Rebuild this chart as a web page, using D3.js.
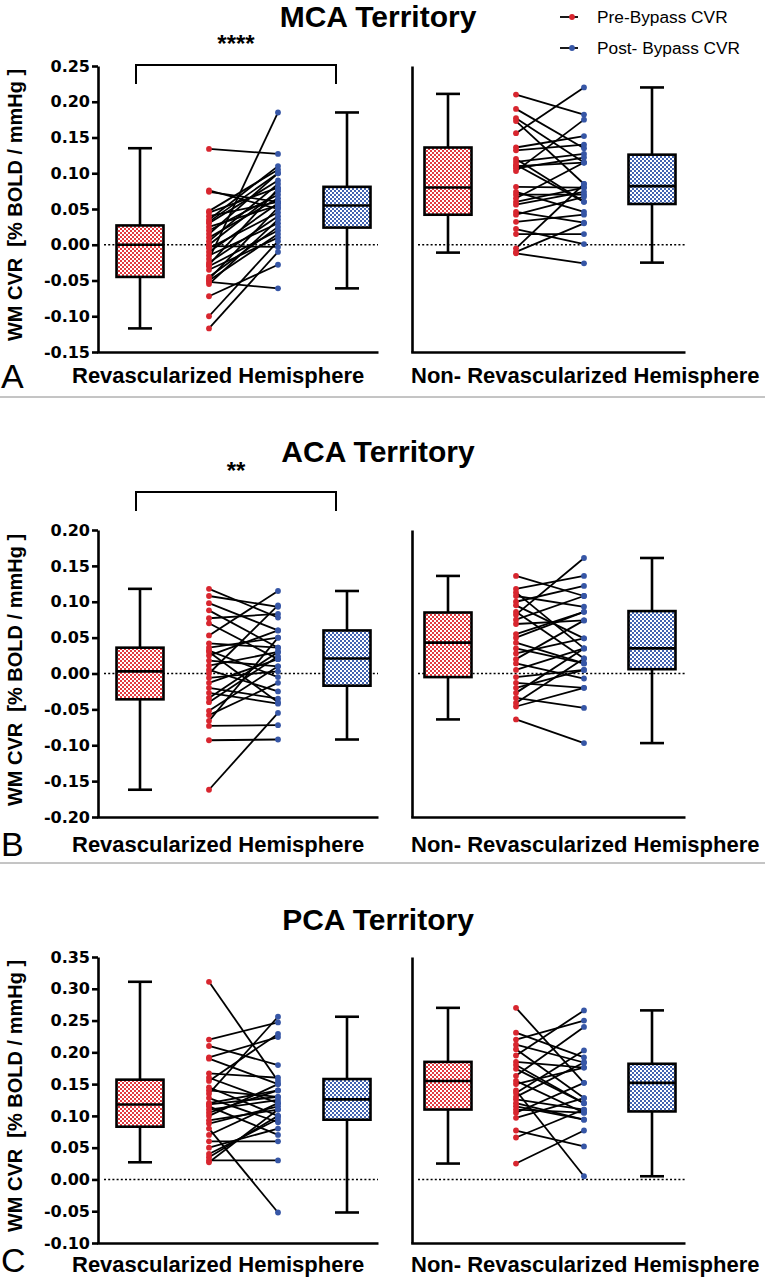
<!DOCTYPE html>
<html>
<head>
<meta charset="utf-8">
<script src="https://cdn.jsdelivr.net/npm/d3@7"></script>
<style>
  body { margin: 0; background: #fff; }
  text { font-family: "Liberation Sans", Arial, sans-serif; }
</style>
</head>
<body>
<svg id="chart" width="765" height="1280"></svg>
<script>
// --- data ---
var groups = ["Revascularized Hemisphere", "Non- Revascularized Hemisphere"];
var legendLabels = ["Pre-Bypass CVR", "Post- Bypass CVR"];

var mcaTicks = [0.25, 0.20, 0.15, 0.10, 0.05, 0.00, -0.05, -0.10, -0.15];
var acaTicks = [0.20, 0.15, 0.10, 0.05, 0.00, -0.05, -0.10, -0.15, -0.20];
var pcaTicks = [0.35, 0.30, 0.25, 0.20, 0.15, 0.10, 0.05, 0.00, -0.05, -0.10];

// box stats: [min, q1, median, q3, max]
var mcaRevPreBox  = [-0.117, -0.045, 0.000, 0.027, 0.135];
var mcaRevPostBox = [-0.061, 0.024, 0.055, 0.081, 0.185];
var mcaNonPreBox  = [-0.011, 0.042, 0.080, 0.136, 0.211];
var mcaNonPostBox = [-0.025, 0.057, 0.082, 0.126, 0.220];
var acaRevPreBox  = [-0.162, -0.036, 0.003, 0.036, 0.118];
var acaRevPostBox = [-0.092, -0.017, 0.021, 0.060, 0.115];
var acaNonPreBox  = [-0.064, -0.005, 0.043, 0.085, 0.136];
var acaNonPostBox = [-0.097, 0.006, 0.035, 0.087, 0.161];
var pcaRevPreBox  = [0.027, 0.083, 0.118, 0.157, 0.311];
var pcaRevPostBox = [-0.052, 0.094, 0.126, 0.158, 0.256];
var pcaNonPreBox  = [0.025, 0.110, 0.155, 0.185, 0.270];
var pcaNonPostBox = [0.005, 0.107, 0.152, 0.182, 0.266];

// paired subjects (same index = same patient)
var mcaRevPre  = [0.134, 0.076, 0.074, 0.047, 0.045, 0.040, 0.035, 0.032, 0.030, 0.025, 0.020, 0.015, 0.010, 0.005, 0.000, -0.002, -0.005, -0.010, -0.015, -0.020, -0.025, -0.028, -0.030, -0.035, -0.045, -0.048, -0.050, -0.052, -0.055, -0.072, -0.100, -0.117];
var mcaRevPost = [0.127, 0.050, 0.060, 0.105, 0.080, 0.060, 0.110, 0.100, 0.090, 0.055, 0.070, 0.100, 0.065, 0.085, 0.075, -0.003, 0.045, 0.058, 0.030, 0.185, 0.040, 0.078, 0.020, 0.010, 0.025, 0.052, 0.015, -0.061, 0.035, -0.028, 0.005, -0.010];
var mcaNonPre  = [0.210, 0.190, 0.177, 0.173, 0.156, 0.136, 0.132, 0.120, 0.116, 0.112, 0.110, 0.107, 0.103, 0.081, 0.074, 0.070, 0.065, 0.060, 0.056, 0.046, 0.042, 0.032, 0.022, 0.015, -0.005, -0.010, -0.012];
var mcaNonPost = [0.182, 0.135, 0.115, 0.085, 0.220, 0.152, 0.140, 0.060, 0.127, 0.060, 0.115, 0.122, 0.175, 0.080, 0.046, 0.070, 0.115, 0.080, 0.074, 0.031, 0.067, 0.042, 0.001, 0.015, 0.085, 0.030, -0.026];
var acaRevPre  = [0.118, 0.108, 0.098, 0.077, 0.070, 0.053, 0.042, 0.036, 0.032, 0.025, 0.018, 0.011, 0.005, -0.006, -0.013, -0.020, -0.027, -0.034, -0.052, -0.058, -0.066, -0.073, -0.093, -0.162, 0.030, 0.000, -0.040, 0.088];
var acaRevPost = [0.078, 0.093, 0.060, 0.083, 0.020, 0.115, 0.036, 0.050, -0.005, 0.060, 0.010, 0.030, -0.025, 0.003, 0.020, -0.035, -0.042, 0.030, 0.010, -0.013, 0.050, -0.072, -0.092, -0.055, -0.040, 0.095, 0.024, 0.036];
var acaNonPre  = [0.136, 0.118, 0.113, 0.108, 0.100, 0.086, 0.082, 0.069, 0.055, 0.043, 0.028, 0.014, -0.005, -0.013, -0.027, -0.034, -0.041, -0.046, -0.064, 0.095, 0.075, 0.050, 0.035, 0.020, 0.005, -0.020];
var acaNonPost = [0.108, 0.136, 0.035, 0.093, 0.122, 0.021, 0.161, 0.074, 0.086, 0.014, 0.049, -0.007, 0.005, -0.020, 0.035, -0.048, 0.021, -0.020, -0.097, 0.049, 0.108, 0.086, 0.014, 0.074, 0.035, 0.005];
var pcaRevPre  = [0.311, 0.220, 0.210, 0.192, 0.167, 0.155, 0.145, 0.140, 0.135, 0.128, 0.120, 0.115, 0.110, 0.100, 0.093, 0.088, 0.080, 0.070, 0.060, 0.050, 0.040, 0.035, 0.030, 0.027, 0.190, 0.118, 0.105, 0.160];
var pcaRevPost = [0.155, 0.247, 0.180, 0.224, 0.160, 0.229, 0.100, 0.130, 0.256, 0.090, 0.140, 0.070, 0.125, 0.150, 0.110, 0.115, -0.052, 0.120, 0.060, 0.080, 0.095, 0.100, 0.030, 0.110, 0.150, 0.130, 0.140, 0.120];
var pcaNonPre  = [0.270, 0.231, 0.220, 0.212, 0.205, 0.195, 0.185, 0.174, 0.163, 0.155, 0.136, 0.126, 0.115, 0.105, 0.097, 0.077, 0.066, 0.025, 0.180, 0.150, 0.140, 0.130, 0.120, 0.110];
var pcaNonPost = [0.152, 0.192, 0.250, 0.184, 0.128, 0.266, 0.176, 0.120, 0.240, 0.105, 0.203, 0.110, 0.094, 0.152, 0.128, 0.052, 0.110, 0.077, 0.120, 0.176, 0.005, 0.184, 0.094, 0.105];

var redDot = "#d8262f", blueDot = "#3656a6";

var svg = d3.select("#chart");
var defs = svg.append("defs");

// checkered fill like the Prism boxes
function checker(id, col) {
  var p = defs.append("pattern").attr("id", id)
    .attr("width", 4).attr("height", 4).attr("patternUnits", "userSpaceOnUse");
  p.append("rect").attr("width", 4).attr("height", 4).attr("fill", "#fff");
  p.append("rect").attr("width", 2).attr("height", 2).attr("fill", col);
  p.append("rect").attr("x", 2).attr("y", 2).attr("width", 2).attr("height", 2).attr("fill", col);
}
checker("redCheck", "#e23a40");
checker("blueCheck", "#4263b0");

var cats = ["preBox", "pre", "post", "postBox"];
var xLeft = d3.scalePoint().domain(cats).range([140, 347]);
var xRight = d3.scalePoint().domain(cats).range([448, 652]);
var sides = [
  {x: xLeft, axisX: 98, endX: 378, labelX: 72},
  {x: xRight, axisX: 412, endX: 685, labelX: 411}
];

function drawBox(g, x, y, stats, fillId) {
  var cx = x, w = 47, cap = 24;
  g.append("line").attr("x1", cx).attr("x2", cx)
    .attr("y1", y(stats[0])).attr("y2", y(stats[4]))
    .attr("stroke", "#000").attr("stroke-width", 2.6);
  g.append("rect").attr("x", cx - w / 2).attr("width", w)
    .attr("y", y(stats[3])).attr("height", y(stats[1]) - y(stats[3]))
    .attr("fill", "url(#" + fillId + ")").attr("stroke", "#000").attr("stroke-width", 2.6);
  g.append("line").attr("x1", cx - w / 2).attr("x2", cx + w / 2)
    .attr("y1", y(stats[2])).attr("y2", y(stats[2]))
    .attr("stroke", "#000").attr("stroke-width", 2.6);
  [stats[0], stats[4]].forEach(function (v) {
    g.append("line").attr("x1", cx - cap / 2).attr("x2", cx + cap / 2)
      .attr("y1", y(v)).attr("y2", y(v))
      .attr("stroke", "#000").attr("stroke-width", 2.6);
  });
}

function drawPairs(g, x, y, pre, post) {
  var pairs = pre.map(function (d, i) { return {a: d, b: post[i]}; });
  g.selectAll(".pl").data(pairs).enter().append("line")
    .attr("x1", x("pre")).attr("x2", x("post"))
    .attr("y1", function (d) { return y(d.a); })
    .attr("y2", function (d) { return y(d.b); })
    .attr("stroke", "#000").attr("stroke-width", 1.8);
  g.selectAll(".pa").data(pre).enter().append("circle")
    .attr("cx", x("pre")).attr("cy", function (d) { return y(d); })
    .attr("r", 2.9).attr("fill", redDot);
  g.selectAll(".pb").data(post).enter().append("circle")
    .attr("cx", x("post")).attr("cy", function (d) { return y(d); })
    .attr("r", 2.9).attr("fill", blueDot);
}

function drawPanel(p) {
  var y = d3.scaleLinear().domain([p.ticks[p.ticks.length - 1], p.ticks[0]]).range([p.bottom, p.top]);
  var g = svg.append("g");

  g.append("text").attr("x", 378).attr("y", p.titleY).attr("text-anchor", "middle")
    .attr("font-size", 30).attr("font-weight", "bold").text(p.title);

  // y axis with ticks on the left part
  var ax = g.append("g").attr("transform", "translate(" + sides[0].axisX + ",0)")
    .call(d3.axisLeft(y).tickValues(p.ticks).tickSize(6).tickPadding(2).tickSizeOuter(0)
      .tickFormat(function (d) { return d.toFixed(2); }));
  ax.selectAll("path, line").attr("stroke", "#000").attr("stroke-width", 2.6);
  ax.selectAll("text").attr("fill", "#000")
    .style("font-family", "'DejaVu Sans', sans-serif").style("font-weight", "bold").style("font-size", "16px");

  g.append("text")
    .attr("transform", "translate(22," + p.yLabelY + ") rotate(-90)")
    .attr("text-anchor", "middle").attr("font-size", 20).attr("font-weight", "bold")
    .attr("xml:space", "preserve")
    .text("WM CVR  [% BOLD / mmHg ]");

  sides.forEach(function (s, k) {
    if (k == 1) {
      var ra = g.append("g").attr("transform", "translate(" + s.axisX + ",0)")
        .call(d3.axisLeft(y).tickValues([]).tickSizeOuter(0));
      ra.select("path").attr("stroke", "#000").attr("stroke-width", 2.6);
    }
    var bx = g.append("g").attr("transform", "translate(0," + p.bottom + ")")
      .call(d3.axisBottom(d3.scaleLinear().range([s.axisX - 1.3, s.endX])).tickValues([]).tickSizeOuter(0));
    bx.select("path").attr("stroke", "#000").attr("stroke-width", 2.6);

    // zero reference
    g.append("line").attr("x1", s.axisX + 6).attr("x2", s.endX)
      .attr("y1", y(0)).attr("y2", y(0))
      .attr("stroke", "#000").attr("stroke-width", 1.6).attr("stroke-dasharray", "2,2.2");

    var d = p.data[k];
    drawBox(g, s.x("preBox"), y, d.preBox, "redCheck");
    drawBox(g, s.x("postBox"), y, d.postBox, "blueCheck");
    drawPairs(g, s.x, y, d.pre, d.post);

    g.append("text").attr("x", s.labelX).attr("y", p.bottom + p.labelDy)
      .attr("font-size", 22).attr("font-weight", "bold").text(groups[k]);
  });

  g.append("text").attr("x", 1).attr("y", p.letterY)
    .attr("font-size", 34).text(p.letter);

  if (p.sig) {
    var bl = xLeft("preBox") - 4, br = xLeft("postBox") - 11;
    g.append("path")
      .attr("d", "M" + bl + "," + (p.bracketY + 19) + "V" + p.bracketY + "H" + br + "V" + (p.bracketY + 19))
      .attr("fill", "none").attr("stroke", "#000").attr("stroke-width", 2);
    g.append("text").attr("x", (bl + br) / 2).attr("y", p.bracketY - 13)
      .attr("text-anchor", "middle").attr("font-size", 24).attr("font-weight", "bold").text(p.sig);
  }
}

drawPanel({
  title: "MCA Territory", letter: "A", ticks: mcaTicks, top: 66, bottom: 352,
  titleY: 27, yLabelY: 205, labelDy: 31, letterY: 388, sig: "****", bracketY: 65,
  data: [
    {preBox: mcaRevPreBox, postBox: mcaRevPostBox, pre: mcaRevPre, post: mcaRevPost},
    {preBox: mcaNonPreBox, postBox: mcaNonPostBox, pre: mcaNonPre, post: mcaNonPost}
  ]
});
drawPanel({
  title: "ACA Territory", letter: "B", ticks: acaTicks, top: 530, bottom: 817,
  titleY: 462, yLabelY: 670, labelDy: 35, letterY: 856, sig: "**", bracketY: 492,
  data: [
    {preBox: acaRevPreBox, postBox: acaRevPostBox, pre: acaRevPre, post: acaRevPost},
    {preBox: acaNonPreBox, postBox: acaNonPostBox, pre: acaNonPre, post: acaNonPost}
  ]
});
drawPanel({
  title: "PCA Territory", letter: "C", ticks: pcaTicks, top: 957, bottom: 1243,
  titleY: 930, yLabelY: 1096, labelDy: 29, letterY: 1272, sig: null,
  data: [
    {preBox: pcaRevPreBox, postBox: pcaRevPostBox, pre: pcaRevPre, post: pcaRevPost},
    {preBox: pcaNonPreBox, postBox: pcaNonPostBox, pre: pcaNonPre, post: pcaNonPost}
  ]
});

// separators between panels
[397, 863].forEach(function (yy) {
  svg.append("line").attr("x1", 0).attr("x2", 765).attr("y1", yy).attr("y2", yy)
    .attr("stroke", "#8a8a8a").attr("stroke-width", 1);
});

// legend
var lg = svg.append("g");
legendLabels.forEach(function (t, i) {
  var ly = 17 + i * 31;
  lg.append("line").attr("x1", 560).attr("x2", 578).attr("y1", ly).attr("y2", ly)
    .attr("stroke", "#000").attr("stroke-width", 1.8);
  lg.append("circle").attr("cx", 572).attr("cy", ly).attr("r", 2.9).attr("fill", i == 0 ? redDot : blueDot);
  lg.append("text").attr("x", 597).attr("y", ly + 6).attr("font-size", 17.3).text(t);
});
</script>
</body>
</html>
